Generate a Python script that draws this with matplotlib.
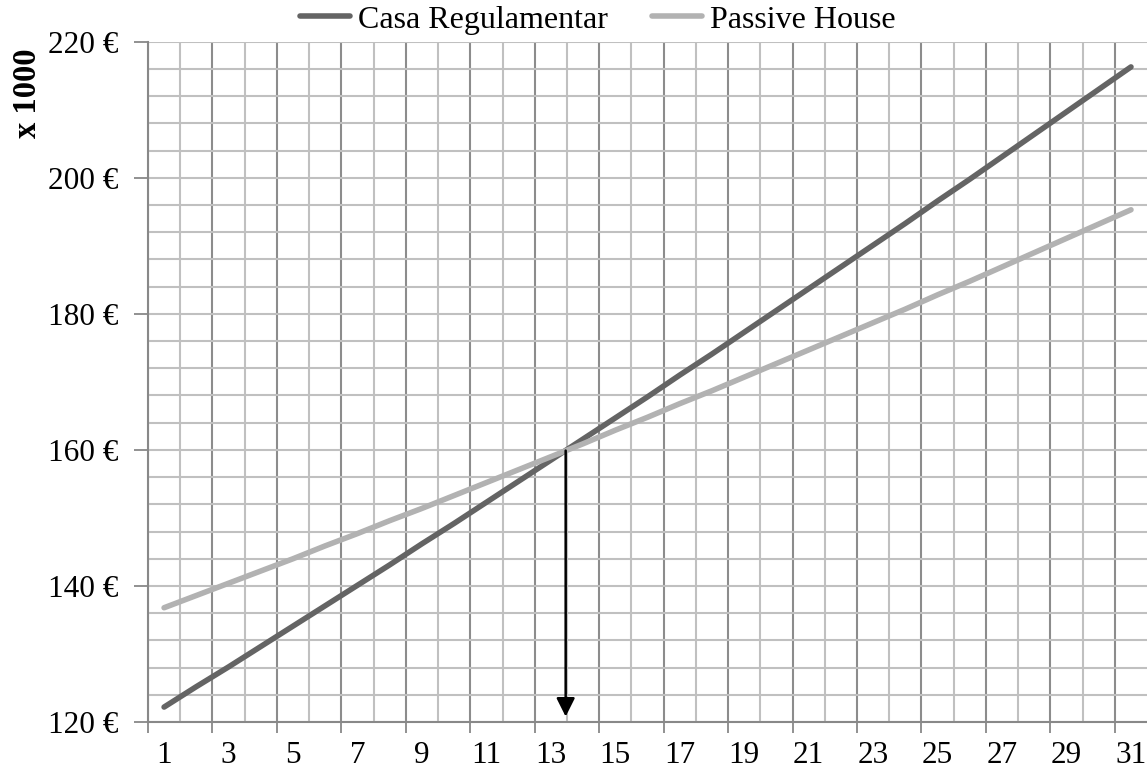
import matplotlib
matplotlib.use("Agg")
import matplotlib.pyplot as plt
import numpy as np

# Accumulated cost (x 1000 €) per year
years = list(range(1, 32))
casa_regulamentar = [122.2, 125.2, 128.1, 131.1, 134.1, 137.1, 140.1, 143.1, 146.2, 149.2,
                     152.3, 155.4, 158.5, 161.6, 164.7, 167.8, 171.0, 174.1, 177.3, 180.5,
                     183.7, 186.9, 190.1, 193.3, 196.6, 199.8, 203.1, 206.4, 209.7, 213.0,
                     216.3]
passive_house = [136.8, 138.6, 140.4, 142.2, 144.0, 145.9, 147.7, 149.6, 151.4, 153.3,
                 155.2, 157.1, 159.0, 160.9, 162.9, 164.8, 166.8, 168.7, 170.7, 172.7,
                 174.7, 176.7, 178.7, 180.7, 182.8, 184.8, 186.9, 189.0, 191.1, 193.2,
                 195.3]
series_names = ["Casa Regulamentar", "Passive House"]
y_ticks = [120, 140, 160, 180, 200, 220]
y_tick_labels = ["120 €", "140 €", "160 €", "180 €", "200 €", "220 €"]
x_label_years = years[::2]
break_even_year = 13.46
break_even_cost = 159.9

plt.rcParams["font.family"] = ["Liberation Serif", "DejaVu Serif"]

fig = plt.figure(figsize=(11.47, 7.70), dpi=100)
ax = fig.add_axes([0.129, 0.0623, 0.8711, 0.8835])

ax.set_xlim(0.5, 31.5)
ax.set_ylim(120, 220)

# horizontal grid (major and minor)
ax.set_yticks(y_ticks)
ax.set_yticklabels(y_tick_labels, fontsize=22.5)
ax.set_yticks(np.arange(120, 221, 4), minor=True)
ax.yaxis.grid(True, which="both", color="#c0c0c0", linewidth=1.5)
ax.tick_params(axis="y", which="major", length=10, width=1.3, color="#888888", pad=11.5)
ax.tick_params(axis="y", which="minor", length=0)

# vertical grid: darker every two categories, lighter in between
major_bounds = np.arange(0.5, 31.0, 2)
ax.set_xticks(major_bounds)
ax.set_xticklabels([""] * len(major_bounds))
ax.set_xticks(x_label_years, minor=True)
ax.set_xticklabels([str(v) for v in x_label_years], minor=True, fontsize=22.5)
ax.xaxis.grid(True, which="major", color="#8c8c8c", linewidth=1.5)
for b in np.arange(1.5, 31.0, 2):
    ax.axvline(b, color="#c0c0c0", linewidth=1.5, zorder=0.5)
ax.tick_params(axis="x", which="major", length=8, width=1.3, color="#888888")
ax.tick_params(axis="x", which="minor", length=0, pad=13.5)
ax.set_axisbelow(True)

for side in ["top", "right"]:
    ax.spines[side].set_visible(False)
for side in ["left", "bottom"]:
    ax.spines[side].set_color("#888888")
    ax.spines[side].set_linewidth(1.5)

ax.plot(years, casa_regulamentar, color="#646464", linewidth=4,
        solid_capstyle="round", label=series_names[0], zorder=3)
ax.plot(years, passive_house, color="#b2b2b2", linewidth=4,
        solid_capstyle="round", label=series_names[1], zorder=3)

# break-even arrow
ax.annotate("", xy=(break_even_year, 120.8), xytext=(break_even_year, break_even_cost),
            arrowprops=dict(arrowstyle="-|>", color="black", lw=1.8,
                            mutation_scale=28, shrinkA=0, shrinkB=0),
            zorder=4)

fig.legend(loc="center", bbox_to_anchor=(598 / 1147, 1 - 20 / 770), ncol=2,
           frameon=False, fontsize=23, handlelength=1.55, handletextpad=0.25,
           columnspacing=1.4, borderpad=0, borderaxespad=0)

fig.text(27 / 1147, 1 - 93 / 770, "x 1000", rotation=90, fontsize=23.5,
         fontweight="bold", ha="center", va="center")

fig.savefig("out.png", dpi=100)
